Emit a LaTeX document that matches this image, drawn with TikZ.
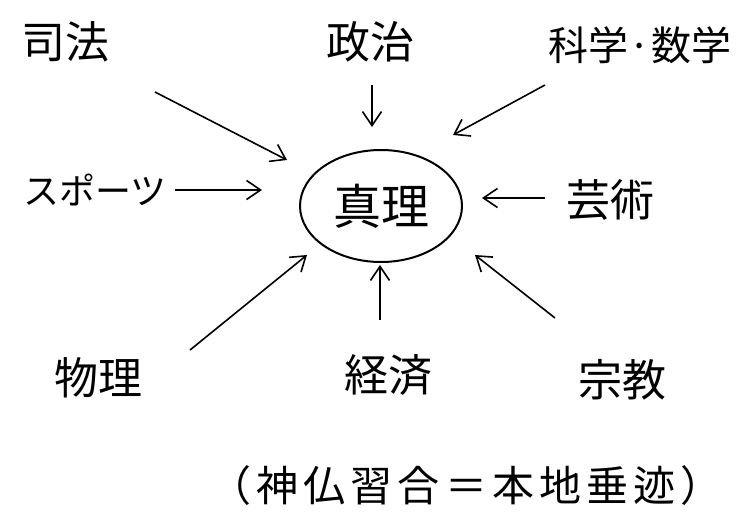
\documentclass[tikz,border=0pt]{standalone}
\usepackage{fontspec}
\setmainfont{Noto Sans CJK JP}
\usetikzlibrary{arrows.meta,shapes.geometric}
\begin{document}
\begin{tikzpicture}[x=1pt,y=-1pt,
  lbl/.style={font=\fontsize{44}{48}\selectfont, inner sep=0pt},
  arr/.style={line width=1.6pt, -{Straight Barb[length=14pt,width=19pt,line width=1.6pt]}}]
\useasboundingbox (0,0) rectangle (737,522);
\fill[white] (0,0) rectangle (737,522);
\node[ellipse, draw, line width=2pt, minimum width=162pt, minimum height=112pt, inner sep=0pt, font=\fontsize{48}{52}\selectfont] (shinri) at (381,206) {真理};
\node[lbl] (shiho) at (65,42) {司法};
\node[lbl] (seiji) at (370,42) {政治};
\node[lbl, font=\fontsize{40}{44}\selectfont] (kagaku) at (640,45) {科学·数学};
\node[lbl, font=\fontsize{36}{40}\selectfont] (sports) at (95,190) {スポーツ};
\node[lbl] (geijutsu) at (610,200) {芸術};
\node[lbl] (butsuri) at (98,378) {物理};
\node[lbl] (keizai) at (388,375) {経済};
\node[lbl] (shukyo) at (622,380) {宗教};
\node[lbl, font=\fontsize{42}{46}\selectfont\addfontfeature{LetterSpace=12}] (shinbutsu) at (466,486) {（神仏習合＝本地垂迹）};
\coordinate (t1) at (155,92);  \coordinate (h1) at (287,160);
\coordinate (t2) at (372,85);  \coordinate (h2) at (372,127);
\coordinate (t3) at (545,85);  \coordinate (h3) at (453,135);
\coordinate (t4) at (175,190); \coordinate (h4) at (262,190);
\coordinate (t5) at (545,198); \coordinate (h5) at (482,198);
\coordinate (t6) at (190,350); \coordinate (h6) at (307,255);
\coordinate (t7) at (380,320); \coordinate (h7) at (380,265);
\coordinate (t8) at (555,318); \coordinate (h8) at (475,255);
\draw[arr] (t1) -- (h1);
\draw[arr] (t2) -- (h2);
\draw[arr] (t3) -- (h3);
\draw[arr] (t4) -- (h4);
\draw[arr] (t5) -- (h5);
\draw[arr] (t6) -- (h6);
\draw[arr] (t7) -- (h7);
\draw[arr] (t8) -- (h8);
\end{tikzpicture}
\end{document}
